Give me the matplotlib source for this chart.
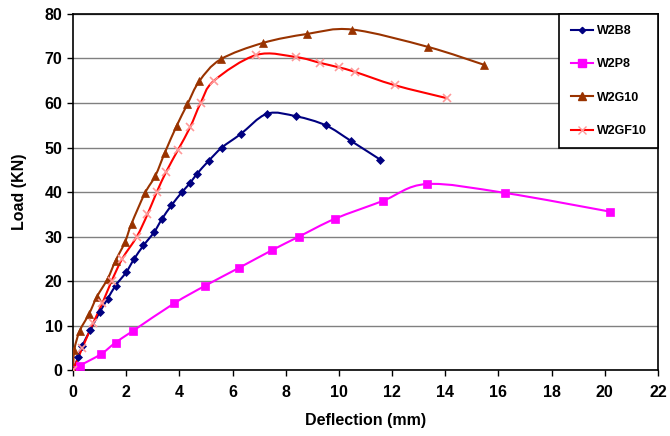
import matplotlib
matplotlib.use('Agg')
import matplotlib.pyplot as plt
from matplotlib.path import Path
from matplotlib.patches import PathPatch
from matplotlib.lines import Line2D
import numpy as np

plt.rcParams['font.family'] = ['Liberation Sans', 'DejaVu Sans']

# deflection (mm) / load (KN) readings for each wall
w2b8_x = [0, 0.2, 0.35, 0.65, 1.0, 1.3, 1.6, 2.0, 2.3, 2.65, 3.05, 3.35, 3.7, 4.1,
          4.4, 4.65, 5.1, 5.6, 6.3, 7.3, 8.4, 9.5, 10.45, 11.55]
w2b8_y = [0, 3, 5.5, 9, 13, 16, 19, 22, 25, 28, 31, 34, 37, 40,
          42, 44, 47, 50, 53, 57.6, 57, 55, 51.5, 47.3]

w2p8_x = [0, 0.25, 1.05, 1.6, 2.25, 3.8, 4.95, 6.25, 7.5, 8.5, 9.85, 11.65, 13.3, 16.25, 20.2]
w2p8_y = [0, 1, 3.6, 6.2, 8.8, 15, 18.9, 23, 27, 30, 34, 38, 41.8, 39.8, 35.6]

w2g10_x = [0, 0.05, 0.25, 0.6, 0.9, 1.3, 1.6, 1.95, 2.2, 2.7, 3.1, 3.45, 3.9, 4.3,
           4.75, 5.55, 7.15, 8.8, 10.5, 13.35, 15.45]
w2g10_y = [0, 4.6, 8.8, 12.6, 16.5, 20.5, 24.6, 28.7, 32.9, 39.7, 43.7, 48.8, 54.9, 59.7,
           64.9, 69.8, 73.5, 75.5, 76.5, 72.6, 68.6]

w2gf10_x = [0, 0.35, 0.75, 1.1, 1.45, 1.85, 2.4, 2.8, 3.15, 3.5, 3.95, 4.4, 4.8, 5.3,
            6.9, 8.4, 9.3, 10.0, 10.6, 12.1, 14.05]
w2gf10_y = [0, 5, 10.5, 15, 20, 25, 30, 35, 40, 44.5, 49.5, 54.5, 60, 65,
            70.8, 70.3, 69, 68, 67, 64, 61.1]


def smooth_path(xs, ys):
    # bezier through the points, like a spreadsheet "smoothed line"
    p = np.column_stack([xs, ys]).astype(float)
    verts = [p[0]]
    codes = [Path.MOVETO]
    n = len(p)
    for i in range(n - 1):
        p0 = p[i - 1] if i > 0 else p[i]
        p1 = p[i]
        p2 = p[i + 1]
        p3 = p[i + 2] if i + 2 < n else p[i + 1]
        c1 = p1 + (p2 - p0) / 6.0
        c2 = p2 - (p3 - p1) / 6.0
        verts += [c1, c2, p2]
        codes += [Path.CURVE4] * 3
    return Path(verts, codes)


fig = plt.figure(figsize=(6.7, 4.36), dpi=100)
ax = fig.add_axes([0.109, 0.151, 0.873, 0.817])

series = [
    ('W2B8', w2b8_x, w2b8_y, '#000080', 'D', '#000080', 4.2),
    ('W2P8', w2p8_x, w2p8_y, '#FF00FF', 's', '#FF00FF', 6.2),
    ('W2G10', w2g10_x, w2g10_y, '#993300', '^', '#993300', 6.2),
    ('W2GF10', w2gf10_x, w2gf10_y, '#FF0000', 'x', '#FF9999', 6.2),
]

handles = []
for name, xs, ys, col, mk, mcol, ms in series:
    ax.add_patch(PathPatch(smooth_path(xs, ys), facecolor='none', edgecolor=col,
                           lw=1.5, zorder=3))
    ax.plot(xs, ys, linestyle='none', marker=mk, color=mcol, markersize=ms,
            markeredgewidth=1.2 if mk == 'x' else 0.5, zorder=4)
    handles.append(Line2D([0], [0], color=col, lw=1.5, marker=mk, markersize=ms - 1,
                          markerfacecolor=mcol, markeredgecolor=mcol, label=name))

ax.set_xlim(0, 22)
ax.set_ylim(0, 80)
ax.set_xticks(range(0, 23, 2))
ax.set_yticks(range(0, 81, 10))
ax.yaxis.grid(True, color='#808080', lw=1)
ax.set_axisbelow(True)
for s in ax.spines.values():
    s.set_color('black')
    s.set_linewidth(1.2)
ax.tick_params(direction='out', length=4, width=1, labelsize=11.5)
ax.tick_params(axis='x', pad=7)
for lab in ax.get_xticklabels() + ax.get_yticklabels():
    lab.set_fontweight('bold')

ax.set_xlabel('Deflection (mm)', fontsize=11.5, fontweight='bold', labelpad=9)
ax.set_ylabel('Load (KN)', fontsize=11.5, fontweight='bold', labelpad=13)

leg = ax.legend(handles=handles, loc='upper right', borderaxespad=0, fancybox=False,
                edgecolor='black', framealpha=1, prop={'weight': 'bold', 'size': 9},
                labelspacing=1.7, handlelength=1.8, handletextpad=0.3,
                borderpad=0.9)
leg.get_frame().set_linewidth(1.2)

fig.savefig('out.png', dpi=100)
